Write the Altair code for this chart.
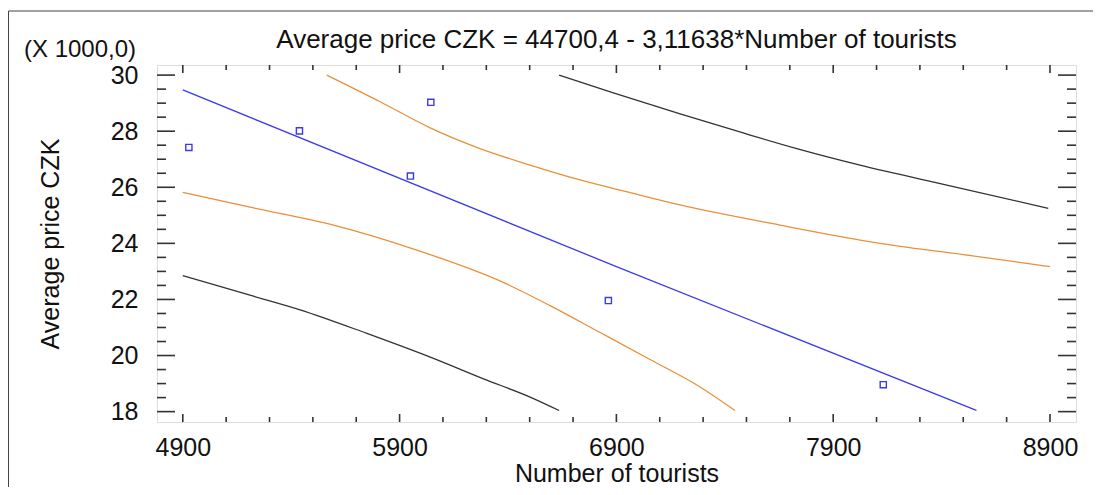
import altair as alt
import pandas as pd

# ---------------- data ----------------
obs_tourists = [4928, 5438, 5950, 6044, 6863, 8131]
obs_price = [27.42, 28.01, 26.40, 29.03, 21.96, 18.96]  # thousands CZK

fit_x = [4900, 6900, 8561]
fit_y = [29.47, 23.17, 18.04]

conf_up_x = [5564, 5810, 6041, 6271, 6502, 6732, 6963, 7194, 7655, 8116, 8577, 8900]
conf_up_y = [30.0, 29.05, 28.12, 27.38, 26.79, 26.26, 25.81, 25.37, 24.65, 24.00, 23.52, 23.17]

conf_lo_x = [4900, 5210, 5595, 5979, 6363, 6594, 6825, 7055, 7286, 7447]
conf_lo_y = [25.82, 25.29, 24.65, 23.76, 22.66, 21.78, 20.82, 19.86, 18.88, 18.04]

pred_up_x = [6636, 6886, 7194, 7500, 7732, 8024, 8424, 8892]
pred_up_y = [30.0, 29.37, 28.62, 27.90, 27.38, 26.79, 26.08, 25.25]

pred_lo_x = [4900, 5210, 5441, 5749, 6056, 6287, 6502, 6636]
pred_lo_y = [22.85, 22.15, 21.63, 20.79, 19.90, 19.17, 18.52, 18.04]

x_major = [4900, 5900, 6900, 7900, 8900]
x_minor = [5100, 5300, 5500, 5700, 6100, 6300, 6500, 6700,
           7100, 7300, 7500, 7700, 8100, 8300, 8500, 8700]
y_major = [18, 20, 22, 24, 26, 28, 30]
y_minor = [18.5, 19, 19.5, 20.5, 21, 21.5, 22.5, 23, 23.5,
           24.5, 25, 25.5, 26.5, 27, 27.5, 28.5, 29, 29.5]

title_text = ["Average price CZK = 44700,4 - 3,11638*Number of tourists"]
x_title = "Number of tourists"
y_title = "Average price CZK"
scale_note = ["(X 1000,0)"]

# ---------------- tables ----------------
rows = []
for name, xs_, ys_ in [("fit", fit_x, fit_y),
                       ("conf_up", conf_up_x, conf_up_y),
                       ("conf_lo", conf_lo_x, conf_lo_y),
                       ("pred_up", pred_up_x, pred_up_y),
                       ("pred_lo", pred_lo_x, pred_lo_y)]:
    for xv, yv in zip(xs_, ys_):
        rows.append({"curve": name, "x": xv, "y": yv})
curves = pd.DataFrame(rows)
obs = pd.DataFrame({"x": obs_tourists, "y": obs_price})

W, H = 919, 357
FONT = "Liberation Sans"
XDOM = [4781, 9020]
YDOM = [17.63, 30.36]

xs = alt.Scale(domain=XDOM, nice=False, zero=False)
ys = alt.Scale(domain=YDOM, nice=False, zero=False)

x_enc = alt.X("x:Q", scale=xs, axis=alt.Axis(
    values=x_major, ticks=False, domain=False, grid=False,
    labelFontSize=25, labelPadding=13, labelColor="#111", labelFont=FONT,
    format="d", title=x_title, titleFontSize=25, titleFont=FONT,
    titleFontWeight="normal", titleColor="#111", titleY=59.5,
    titleBaseline="alphabetic"))
y_enc = alt.Y("y:Q", scale=ys, axis=alt.Axis(
    values=y_major, ticks=False, domain=False, grid=False,
    labelFontSize=25, labelPadding=19, labelColor="#111", labelFont=FONT,
    format="d", title=y_title, titleFontSize=25, titleFont=FONT,
    titleFontWeight="normal", titleColor="#111", titleAngle=270,
    titleX=-99, titleY=H / 2, titleAlign="center",
    titleBaseline="alphabetic"))

color_scale = alt.Scale(
    domain=["fit", "conf_up", "conf_lo", "pred_up", "pred_lo"],
    range=["#3b3bea", "#e8903a", "#e8903a", "#333333", "#333333"])

lines = alt.Chart(curves).mark_line(
    strokeWidth=1.3, clip=True, interpolate="monotone").encode(
    x=x_enc, y=y_enc,
    color=alt.Color("curve:N", scale=color_scale, legend=None),
    detail="curve:N")

points = alt.Chart(obs).mark_point(
    shape="square", filled=False, size=38, color="#3b3bea",
    strokeWidth=1.4, opacity=1).encode(x=alt.X("x:Q", scale=xs),
                                        y=alt.Y("y:Q", scale=ys))

TC = "#333333"
ymaj = pd.DataFrame({"v": y_major})
ymin = pd.DataFrame({"v": y_minor})
xmaj = pd.DataFrame({"v": x_major})
xmin = pd.DataFrame({"v": x_minor})


def yticks(df, length):
    left = alt.Chart(df).mark_rule(color=TC, strokeWidth=1.6).encode(
        y=alt.Y("v:Q", scale=ys), x=alt.value(0), x2=alt.value(length))
    right = alt.Chart(df).mark_rule(color=TC, strokeWidth=1.6).encode(
        y=alt.Y("v:Q", scale=ys), x=alt.value(W), x2=alt.value(W - length))
    return [left, right]


def xticks(df, length):
    bot = alt.Chart(df).mark_rule(color=TC, strokeWidth=1.6).encode(
        x=alt.X("v:Q", scale=xs), y=alt.value(H), y2=alt.value(H - length))
    top = alt.Chart(df).mark_rule(color=TC, strokeWidth=1.6).encode(
        x=alt.X("v:Q", scale=xs), y=alt.value(0), y2=alt.value(length))
    return [bot, top]


tick_layers = yticks(ymaj, 18) + yticks(ymin, 9) + xticks(xmaj, 8) + xticks(xmin, 5)

note = alt.Chart(pd.DataFrame({"t": scale_note})).mark_text(
    font=FONT, fontSize=24, color="#111", align="center",
    baseline="alphabetic").encode(
    text="t:N", x=alt.value(-77), y=alt.value(-8))

title = alt.Chart(pd.DataFrame({"t": title_text})).mark_text(
    font=FONT, fontSize=26, color="#111", align="center",
    baseline="alphabetic").encode(
    text="t:N", x=alt.value(W / 2), y=alt.value(-16.7))

# outer frame of the picture (top and left edges)
frame_top = alt.Chart(pd.DataFrame({"t": scale_note})).mark_rule(
    color="#444", strokeWidth=1).encode(
    x=alt.value(-148.5), x2=alt.value(W + 20), y=alt.value(-54))
frame_left = alt.Chart(pd.DataFrame({"t": scale_note})).mark_rule(
    color="#444", strokeWidth=1).encode(
    x=alt.value(-148.5), y=alt.value(-54), y2=alt.value(H + 70))

chart = alt.layer(
    lines, points, *tick_layers, note, title, frame_top, frame_left
).properties(
    width=W, height=H,
    autosize=alt.AutoSizeParams(type="none"),
    padding={"left": 149, "top": 57, "right": 17, "bottom": 65},
).configure_view(
    stroke="#333333", strokeWidth=2
).configure(background="white")

chart.save("out.html", embed_options={"renderer": "svg", "actions": False})
